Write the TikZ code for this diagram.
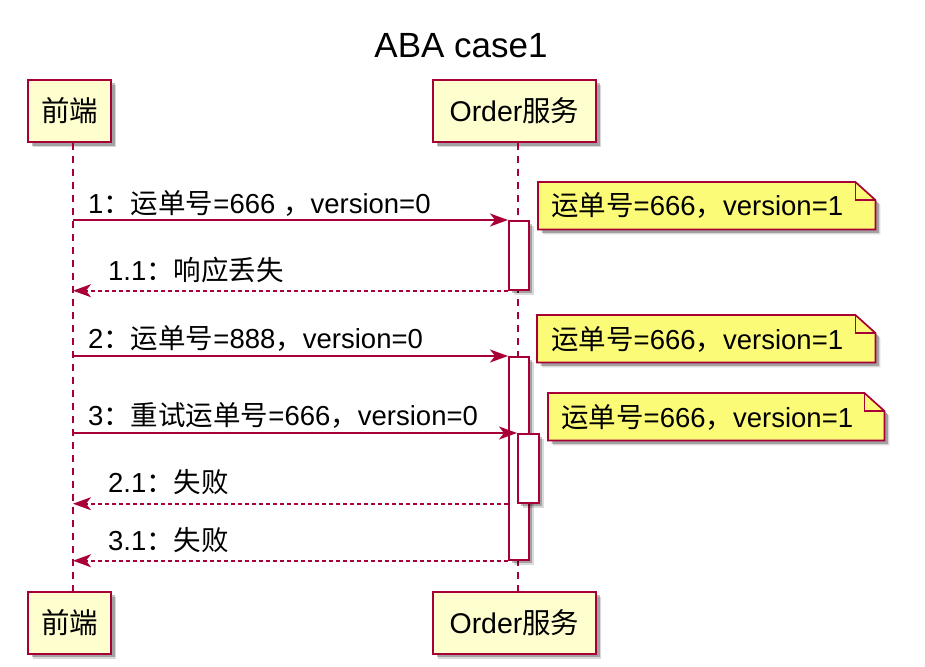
\documentclass[tikz,border=0pt]{standalone}
\usepackage{fontspec}
\setmainfont{Liberation Sans}
\newfontfamily\zhfont{Noto Sans CJK SC}
\newcommand\zh[1]{{\zhfont #1}}
\usetikzlibrary{arrows.meta,shadows}
\definecolor{pu}{HTML}{A80036}
\definecolor{partfill}{HTML}{FEFECE}
\definecolor{notefill}{HTML}{FBFB77}
\begin{document}
\begin{tikzpicture}[x=1pt,y=-1pt,
  shd/.style={
    drop shadow={shadow xshift=5pt,shadow yshift=-5pt,opacity=0.15,fill=black},
    drop shadow={shadow xshift=3.5pt,shadow yshift=-3.5pt,opacity=0.25,fill=black}},
  participant/.style={draw=pu, line width=2pt, fill=partfill, minimum height=62pt, inner sep=0pt, font=\fontsize{28.5}{32}\selectfont, shd},
  act/.style={draw=pu, line width=1.7pt, fill=white, shd, inner sep=0pt, anchor=north west},
  msgtext/.style={anchor=base west, inner sep=0pt, font=\fontsize{27.5}{31}\selectfont},
  call/.style={draw=pu, line width=1.7pt, -{Stealth[length=18pt,width=13pt,inset=5pt]}},
  ret/.style={call, dash pattern=on 4pt off 3pt},
  life/.style={draw=pu, line width=1.6pt, dash pattern=on 7pt off 6pt},
  notebox/.style={inner sep=0pt, anchor=north west, minimum height=47pt},
  noteshape/.style={draw=pu, line width=1.7pt, fill=notefill, shd}
]
\useasboundingbox (0,0) rectangle (925,666);
\fill[white] (0,0) rectangle (925,666);

\node[font=\fontsize{35}{40}\selectfont] (title) at (461,46) {ABA case1};

\node[participant, minimum width=83pt] (p1) at (69.5,111) {\zh{前端}};
\node[participant, minimum width=163pt] (p2) at (514.5,111) {Order\zh{服务}};
\node[participant, minimum width=83pt] (p1b) at (69.5,622.5) {\zh{前端}};
\node[participant, minimum width=163pt] (p2b) at (514.5,622.5) {Order\zh{服务}};

\coordinate (L1) at (73,0);
\coordinate (L2) at (518,0);
\draw[life] (p1.south -| L1) -- (p1b.north -| L1);
\draw[life] (p2.south -| L2) -- (p2b.north -| L2);

\node[act, minimum width=20pt, minimum height=69pt] (a1) at (508,220) {};
\node[act, minimum width=20pt, minimum height=203pt] (a2) at (508,356) {};
\node[act, minimum width=21pt, minimum height=69pt] (a3) at (517,433) {};

\draw[call] (L1 |- a1.north) -- (a1.north west);
\draw[ret] (a1.south west) -- (L1 |- a1.south);
\draw[call] (L1 |- a2.north) -- (a2.north west);
\draw[call] (L1 |- a3.north) -- (a3.north west);
\draw[ret] (a2.west |- a3.south) -- (L1 |- a3.south);
\draw[ret] (a2.south west) -- (L1 |- a2.south);

\node[msgtext] (t1) at (88,213) {1\zh{：运单号}=666 \zh{，}version=0};
\node[msgtext] (t2) at (108,280) {1.1\zh{：响应丢失}};
\node[msgtext] (t3) at (88,348) {2\zh{：运单号}=888\zh{，}version=0};
\node[msgtext] (t4) at (88,425) {3\zh{：重试运单号}=666\zh{，}version=0};
\node[msgtext] (t5) at (108,492) {2.1\zh{：失败}};
\node[msgtext] (t6) at (108,550) {3.1\zh{：失败}};

% notes
\node[notebox, minimum width=337pt] (n1) at (538,182) {};
\node[notebox, minimum width=338pt] (n2) at (537,315) {};
\node[notebox, minimum width=336pt] (n3) at (548,393) {};
\foreach \n in {n1,n2,n3}{
  \path[noteshape] (\n.north west) -- ([xshift=-20pt]\n.north east) -- ([yshift=-18pt]\n.north east) -- (\n.south east) -- (\n.south west) -- cycle;
  \draw[pu, line width=1.7pt] ([xshift=-20pt]\n.north east) -- ++(0,18) -- ++(20,0);
}
\node[msgtext] (n1t) at (551,215) {\zh{运单号}=666\zh{，}version=1};
\node[msgtext] (n2t) at (551,349) {\zh{运单号}=666\zh{，}version=1};
\node[msgtext] (n3t) at (561,427) {\zh{运单号}=666\zh{，}version=1};
\end{tikzpicture}
\end{document}
